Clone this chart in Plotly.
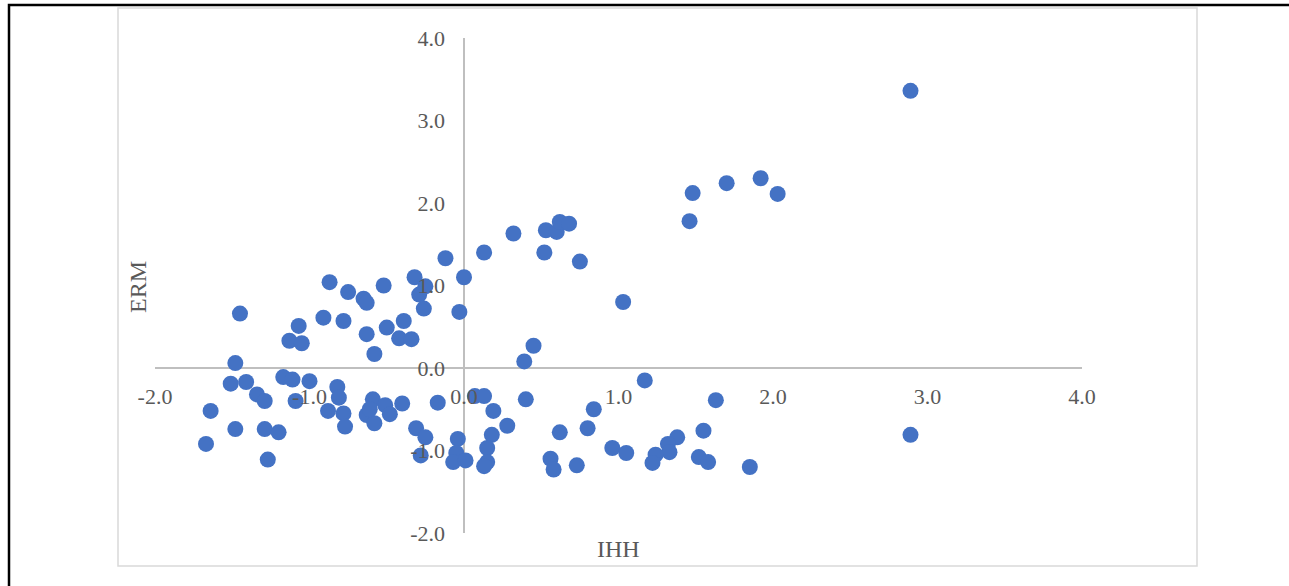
import plotly.graph_objects as go

# IHH (x) and ERM (y) values
ihh = [
    -0.12, -0.32, 0.00, -0.25, -0.29, -0.87, -0.75, -0.52, -0.65, -0.63,
    -1.45, -0.26, -0.03, -0.91, -0.78, -1.07, -0.39, -0.50, -0.63, -0.42,
    -0.34, -1.13, -1.05, -0.58, -1.48,
    0.13, 0.32, 0.53, 0.60, 0.62, 0.68, 0.52, 0.75, 1.03, 0.45,
    0.39, 1.48, 1.46, 1.70, 1.92, 2.03, 2.89,
    -1.17, -1.11, -1.51, -1.41, -1.00, -1.34, -1.29, -1.09, -0.82, -0.81,
    -1.64, -0.88, -0.78, -0.59, -0.51, -0.40, -0.17, -0.63, -0.48, -0.58,
    -0.61, -1.48, -1.29, -1.20, -0.77, -1.67, -1.27, -0.31, -0.25, -0.04,
    -0.28, -0.05, -0.07, 0.01,
    0.07, 0.13, 0.19, 0.28, 0.18, 0.15, 0.15, 0.13, 0.40, 0.62,
    0.56, 0.58, 0.73, 0.84, 0.80, 0.96, 1.05, 1.17, 1.63, 1.38,
    1.32, 1.33, 1.24, 1.22, 1.55, 1.52, 1.58, 1.85, 2.89,
]
erm = [
    1.33, 1.10, 1.10, 0.99, 0.89, 1.04, 0.92, 1.00, 0.84, 0.79,
    0.66, 0.72, 0.68, 0.61, 0.57, 0.51, 0.57, 0.49, 0.41, 0.36,
    0.35, 0.33, 0.30, 0.17, 0.06,
    1.40, 1.63, 1.67, 1.65, 1.77, 1.75, 1.40, 1.29, 0.80, 0.27,
    0.08, 2.12, 1.78, 2.24, 2.30, 2.11, 3.36,
    -0.11, -0.14, -0.19, -0.17, -0.16, -0.32, -0.40, -0.40, -0.23, -0.36,
    -0.52, -0.52, -0.55, -0.38, -0.45, -0.43, -0.42, -0.57, -0.56, -0.67,
    -0.50, -0.74, -0.74, -0.78, -0.71, -0.92, -1.11, -0.73, -0.84, -0.86,
    -1.06, -1.03, -1.14, -1.12,
    -0.34, -0.34, -0.52, -0.70, -0.81, -0.97, -1.14, -1.19, -0.38, -0.78,
    -1.10, -1.23, -1.18, -0.50, -0.73, -0.97, -1.03, -0.15, -0.39, -0.84,
    -0.92, -1.02, -1.05, -1.15, -0.76, -1.08, -1.14, -1.20, -0.81,
]

x_tick_vals = [-2, -1, 0, 1, 2, 3, 4]
x_tick_text = ["-2.0", "-1.0", "0.0", "1.0", "2.0", "3.0", "4.0"]
y_tick_vals = [-2, -1, 0, 1, 2, 3, 4]
y_tick_text = ["-2.0", "-1.0", "0.0", "1.0", "2.0", "3.0", "4.0"]

x_title = "IHH"
y_title = "ERM"

W, H = 1289, 586
L, R, T, B = 155, 1082, 38, 533  # plot area in pixels

def px_x(p):
    return (p - L) / (R - L)

def px_y(p):
    return (B - p) / (B - T)

tick_font = dict(family="Liberation Serif, Times New Roman, serif", size=22, color="#595959")
title_font = dict(family="Liberation Serif, Times New Roman, serif", size=24, color="#595959")

fig = go.Figure()
fig.add_trace(go.Scatter(
    x=ihh, y=erm, mode="markers",
    marker=dict(color="#4472C4", size=16, line=dict(width=0)),
    showlegend=False,
))

fig.update_layout(
    width=W, height=H,
    margin=dict(l=L, r=W - R, t=T, b=H - B, pad=0),
    paper_bgcolor="white", plot_bgcolor="white",
    xaxis=dict(
        range=[-2, 4], showgrid=False, zeroline=True, zerolinecolor="#bfbfbf",
        zerolinewidth=1.5, showline=False, ticks="",
        tickvals=x_tick_vals, ticktext=x_tick_text, tickfont=tick_font,
        anchor="free", position=1 / 3, ticklabelstandoff=13,
    ),
    yaxis=dict(
        range=[-2, 4], showgrid=False, zeroline=True, zerolinecolor="#bfbfbf",
        zerolinewidth=1.5, showline=False, ticks="",
        tickvals=y_tick_vals, ticktext=y_tick_text, tickfont=tick_font,
        anchor="free", position=1 / 3, ticklabelstandoff=19,
    ),
    shapes=[
        dict(type="rect", xref="paper", yref="paper",
             x0=px_x(118), x1=px_x(1197), y0=px_y(566), y1=px_y(8),
             line=dict(color="#d9d9d9", width=1.5), layer="below"),
        dict(type="rect", xref="paper", yref="paper",
             x0=px_x(9), x1=px_x(1300), y0=px_y(600), y1=px_y(5),
             line=dict(color="black", width=2.5), layer="below"),
    ],
    annotations=[
        dict(text=x_title, xref="paper", yref="paper", x=px_x(618), y=px_y(549),
             xanchor="center", yanchor="middle", showarrow=False, font=title_font),
        dict(text=y_title, xref="paper", yref="paper", x=px_x(138), y=px_y(287),
             xanchor="center", yanchor="middle", showarrow=False, font=title_font,
             textangle=-90),
    ],
)

fig.write_html(
    "out.html",
    config={"displayModeBar": False},
    post_script="document.body.style.margin='0';document.body.style.overflow='hidden';",
)
